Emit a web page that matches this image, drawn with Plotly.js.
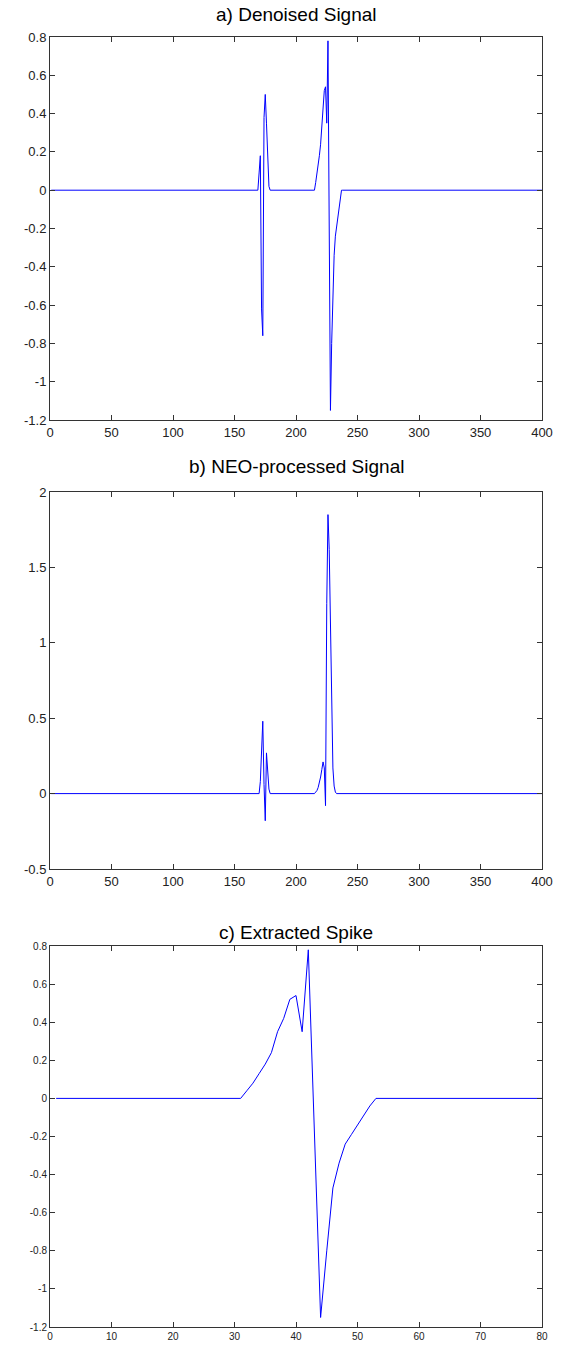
<!DOCTYPE html>
<html><head><meta charset="utf-8">
<script src="https://cdn.plot.ly/plotly-3.0.1.min.js"></script>
<style>html,body{margin:0;padding:0;background:#fff}</style>
</head><body><div id="chart" style="width:568px;height:1346px"></div>
<script>
// ---------- data ----------
const signalLength = 400;
const spikeLength = 80;

// a) Denoised signal: non-zero stretches (start index, values)
const denoisedSeg1Start = 169;
const denoisedSeg1 = [0, 0.09, 0.18, -0.62, -0.76, 0.38, 0.5, 0.35, 0.12, 0.02, 0];

// c) Extracted spike (indices 31..53 of the 80-sample window)
const spikeStart = 31;
const spikeValues = [0, 0.04, 0.08, 0.13, 0.18, 0.24, 0.35, 0.42, 0.52, 0.54, 0.35, 0.78,
                     -0.22, -1.15, -0.8, -0.47, -0.34, -0.24, -0.19, -0.14, -0.09, -0.04, 0];
// the extracted window sits at this offset inside the denoised signal
const spikeOffsetInSignal = 184;

// b) NEO-processed signal: non-zero stretches
const neoSeg1Start = 170;
const neoSeg1 = [0, 0.08, 0.35, 0.48, 0.06, -0.18, 0.27, 0.1, 0.03, 0];
const neoSeg2Start = 215;
const neoSeg2 = [0, 0.01, 0.02, 0.04, 0.07, 0.11, 0.16, 0.21, 0.17, -0.08,
                 1.26, 1.85, 1.62, 1.02, 0.46, 0.17, 0.05, 0.01, 0];

// titles and ticks
const titles = ["a) Denoised Signal", "b) NEO-processed Signal", "c) Extracted Spike"];
const xTicksSignal = [0, 50, 100, 150, 200, 250, 300, 350, 400];
const xTicksSpike = [0, 10, 20, 30, 40, 50, 60, 70, 80];
const yTicksA = [0.8, 0.6, 0.4, 0.2, 0, -0.2, -0.4, -0.6, -0.8, -1, -1.2];
const yTicksB = [2, 1.5, 1, 0.5, 0, -0.5];
const yTicksC = [0.8, 0.6, 0.4, 0.2, 0, -0.2, -0.4, -0.6, -0.8, -1, -1.2];

// ---------- build series ----------
function buildSeries(n, segments) {
  const x = [], y = [];
  for (let i = 1; i <= n; i++) { x.push(i); y.push(0); }
  segments.forEach(([start, vals]) => {
    vals.forEach((v, k) => { const idx = start + k; if (idx >= 1 && idx <= n) y[idx - 1] = v; });
  });
  return {x, y};
}
const denoised = buildSeries(signalLength, [[denoisedSeg1Start, denoisedSeg1], [spikeStart + spikeOffsetInSignal, spikeValues]]);
const neo = buildSeries(signalLength, [[neoSeg1Start, neoSeg1], [neoSeg2Start, neoSeg2]]);
const spike = buildSeries(spikeLength, [[spikeStart, spikeValues]]);

// ---------- layout ----------
const W = 568, H = 1346;
const FONT = "Liberation Sans, Arial, sans-serif";
const left = 50, right = 542;
const panels = [
  {top: 37, bottom: 420, titleY: 15},
  {top: 492, bottom: 869, titleY: 466},
  {top: 946, bottom: 1327, titleY: 932}
];
const yd = p => [1 - p.bottom / H, 1 - p.top / H];
const xd = [left / W, right / W];
const fmt = v => String(v);

function xaxis(anchor, range, ticks, size) {
  return {domain: xd, anchor, range, tickvals: ticks, ticktext: ticks.map(fmt),
    ticks: 'inside', ticklen: 5, tickcolor: '#333', showline: true, mirror: 'ticks',
    linecolor: '#333', linewidth: 1, showgrid: false, zeroline: false,
    tickfont: {family: FONT, size, color: '#222'}, fixedrange: true};
}
function yaxis(anchor, p, range, ticks, size) {
  return {domain: yd(p), anchor, range, tickvals: ticks, ticktext: ticks.map(fmt),
    ticks: 'inside', ticklen: 5, tickcolor: '#333', showline: true, mirror: 'ticks',
    linecolor: '#333', linewidth: 1, showgrid: false, zeroline: false,
    tickfont: {family: FONT, size, color: '#222'}, fixedrange: true};
}

const line = {color: '#0000ff', width: 1};
const data = [
  {x: denoised.x, y: denoised.y, type: 'scatter', mode: 'lines', line, xaxis: 'x', yaxis: 'y'},
  {x: neo.x, y: neo.y, type: 'scatter', mode: 'lines', line, xaxis: 'x2', yaxis: 'y2'},
  {x: spike.x, y: spike.y, type: 'scatter', mode: 'lines', line, xaxis: 'x3', yaxis: 'y3'}
];

const layout = {
  width: W, height: H, margin: {l: 0, r: 0, t: 0, b: 0},
  paper_bgcolor: '#fff', plot_bgcolor: '#fff', showlegend: false,
  font: {family: FONT, color: '#222'},
  xaxis: xaxis('y', [0, 400], xTicksSignal, 13),
  yaxis: yaxis('x', panels[0], [-1.2, 0.8], yTicksA, 13),
  xaxis2: xaxis('y2', [0, 400], xTicksSignal, 13),
  yaxis2: yaxis('x2', panels[1], [-0.5, 2], yTicksB, 13),
  xaxis3: xaxis('y3', [0, 80], xTicksSpike, 10),
  yaxis3: yaxis('x3', panels[2], [-1.2, 0.8], yTicksC, 10),
  annotations: panels.map((p, i) => ({
    text: titles[i], xref: 'paper', yref: 'paper', x: (left + right) / 2 / W, y: 1 - p.titleY / H,
    xanchor: 'center', yanchor: 'middle', showarrow: false,
    font: {family: FONT, size: 19, color: '#000'}
  }))
};

Plotly.newPlot('chart', data, layout, {displayModeBar: false, staticPlot: true});
</script></body></html>
